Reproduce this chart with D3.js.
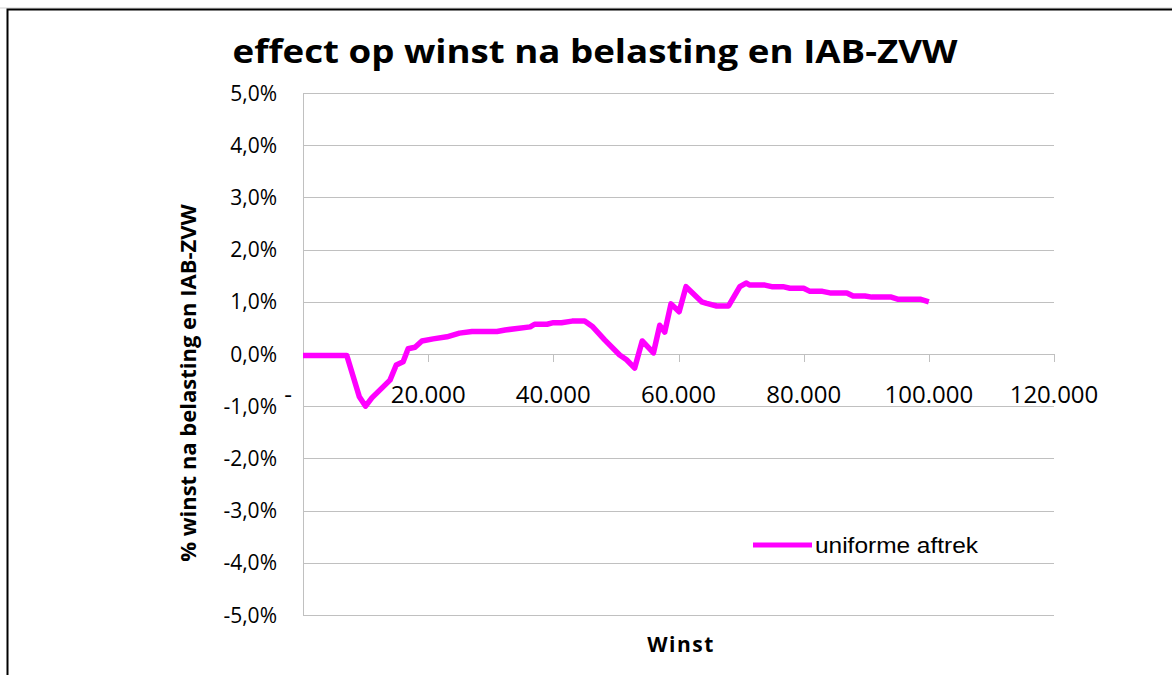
<!DOCTYPE html>
<html lang="nl">
<head>
<meta charset="utf-8">
<title>effect op winst na belasting en IAB-ZVW</title>
<script src="https://d3js.org/d3.v7.min.js"></script>
<style>
    body { margin: 0; background: #fff; }
    svg { display: block; }
    .grid line { stroke: #c0c0c0; stroke-width: 1; }
    .tick-lbl { font-family: "Open Sans", sans-serif; fill: #000; }
    .axis-title { font-family: "Open Sans", sans-serif; font-weight: bold; fill: #000; }
</style>
</head>
<body>
<div id="chart"></div>
<script>
    // winst (x, duizenden) en effect (%)
    const winst = [0, 7, 9, 10, 11, 13.9, 14.9, 16, 16.8, 17.9, 19, 20.8, 23, 25, 27, 31,
        32.3, 36.3, 37, 39, 40, 41.3, 43, 45, 46.3, 48.2, 50.6, 51.7, 53, 54.2, 56, 57,
        57.8, 58.8, 60.1, 61.2, 63.7, 64.5, 66.1, 68, 69.8, 70.8, 71.4, 73.8, 74.9, 76.7,
        77.8, 80, 81, 83, 84.2, 86.9, 87.9, 89.8, 90.9, 94, 95, 98.6, 100];
    const effect = [-0.03, -0.03, -0.82, -1.0, -0.84, -0.5, -0.21, -0.15, 0.1, 0.13, 0.25, 0.29, 0.33, 0.4, 0.43, 0.43,
        0.46, 0.52, 0.57, 0.57, 0.6, 0.6, 0.63, 0.63, 0.52, 0.27, -0.02, -0.11, -0.27, 0.25, 0.02, 0.55,
        0.42, 0.96, 0.81, 1.29, 1.0, 0.97, 0.92, 0.92, 1.29, 1.36, 1.32, 1.32, 1.29, 1.29,
        1.26, 1.26, 1.2, 1.2, 1.17, 1.17, 1.11, 1.11, 1.09, 1.09, 1.05, 1.05, 1.0];
    const xTicks = [0, 20, 40, 60, 80, 100, 120];
    const yTicks = [5, 4, 3, 2, 1, 0, -1, -2, -3, -4, -5];
    const seriesName = "uniforme aftrek";

    const W = 1172, H = 675;
    const svg = d3.select("#chart").append("svg").attr("width", W).attr("height", H);

    // kader
    svg.append("line").attr("x1", 0).attr("x2", W).attr("y1", 8).attr("y2", 8).attr("stroke", "#d0d0d0");
    svg.append("path").attr("d", `M${W + 2},9.5 H7.5 V${H + 2}`)
        .attr("fill", "none").attr("stroke", "#000").attr("stroke-width", 2);

    const x = d3.scaleLinear().domain([0, 120]).range([303, 1054]);
    const y = d3.scaleLinear().domain([-5, 5]).range([615, 93]);

    // gridlijnen
    svg.append("g").attr("class", "grid").selectAll("line").data(yTicks).join("line")
        .attr("x1", x(0)).attr("x2", x(120))
        .attr("y1", d => Math.round(y(d)) + 0.5).attr("y2", d => Math.round(y(d)) + 0.5);
    svg.append("line").attr("x1", x(0) + 0.5).attr("x2", x(0) + 0.5)
        .attr("y1", y(5)).attr("y2", y(-5)).attr("stroke", "#c0c0c0");
    // tick marks op x-as
    svg.append("g").attr("class", "grid").selectAll("line").data(xTicks.slice(1)).join("line")
        .attr("x1", d => Math.round(x(d)) + 0.5).attr("x2", d => Math.round(x(d)) + 0.5)
        .attr("y1", y(0)).attr("y2", y(0) + 8);

    // y labels
    svg.append("g").selectAll("text").data(yTicks).join("text")
        .attr("class", "tick-lbl")
        .attr("x", 277).attr("y", d => y(d)).attr("dy", "0.36em")
        .attr("text-anchor", "end").style("font-size", "21px")
        .text(d => d3.format(".1f")(d).replace(".", ",").replace("−", "-") + "%");

    // x labels
    svg.append("g").selectAll("text").data(xTicks).join("text")
        .attr("class", "tick-lbl")
        .attr("x", d => d === 0 ? 288 : x(d)).attr("y", 403)
        .attr("text-anchor", "middle").style("font-size", "24px")
        .text(d => d === 0 ? "-" : d + ".000");

    // lijn
    const pts = winst.map((w, i) => [w, effect[i]]);
    svg.append("path").datum(pts)
        .attr("fill", "none").attr("stroke", "#ff00ff").attr("stroke-width", 5.5)
        .attr("stroke-linejoin", "round")
        .attr("d", d3.line().x(d => x(d[0])).y(d => y(d[1])));

    // titels
    svg.append("text").attr("class", "axis-title")
        .attr("x", 595).attr("y", 63).attr("text-anchor", "middle")
        .attr("textLength", 725).attr("lengthAdjust", "spacingAndGlyphs")
        .style("font-size", "33px")
        .text("effect op winst na belasting en IAB-ZVW");
    svg.append("text").attr("class", "axis-title")
        .attr("transform", "translate(196,383) rotate(-90)").attr("text-anchor", "middle")
        .style("font-size", "22px")
        .text("% winst na belasting en IAB-ZVW");
    svg.append("text").attr("class", "axis-title")
        .attr("x", 681).attr("y", 652).attr("text-anchor", "middle")
        .attr("letter-spacing", "1.5px")
        .style("font-size", "21px")
        .text("Winst");

    // legenda
    svg.append("line").attr("x1", 753).attr("x2", 812).attr("y1", 545).attr("y2", 545)
        .attr("stroke", "#ff00ff").attr("stroke-width", 5);
    svg.append("text").attr("x", 815).attr("y", 553)
        .attr("textLength", 163).attr("lengthAdjust", "spacingAndGlyphs")
        .style("font-family", "'Liberation Sans', Arial, sans-serif").style("font-size", "22px")
        .text(seriesName);
</script>
</body>
</html>
